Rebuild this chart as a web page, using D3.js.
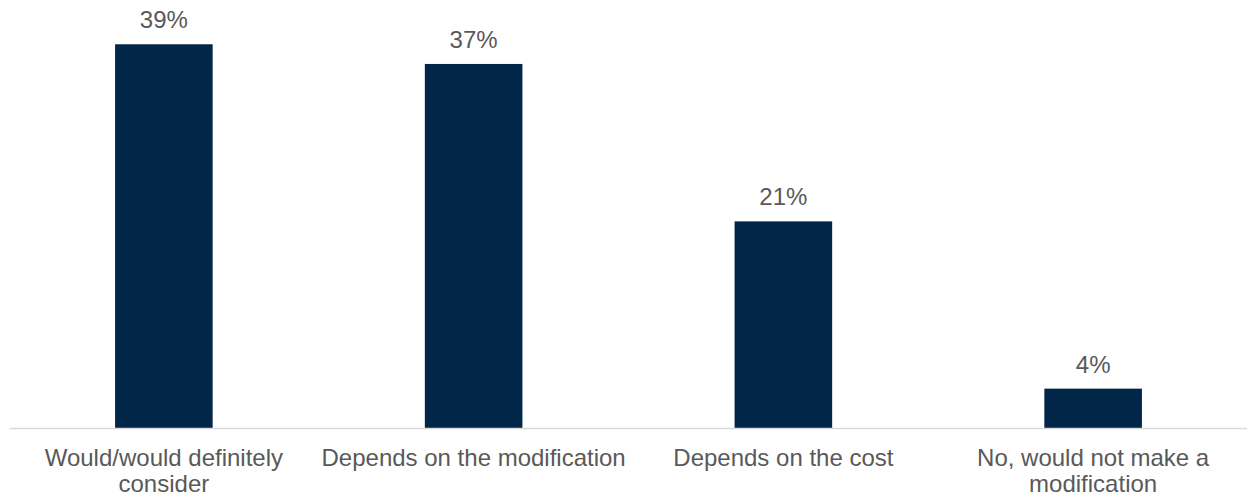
<!DOCTYPE html>
<html>
<head>
<meta charset="utf-8">
<script src="https://cdn.jsdelivr.net/npm/d3@7"></script>
<style>
  html, body { margin: 0; padding: 0; background: #ffffff; }
  svg { display: block; }
</style>
</head>
<body>
<svg id="chart" width="1247" height="495"></svg>
<script>
// Survey responses: share of respondents (%)
const categories = [
  ["Would/would definitely", "consider"],
  ["Depends on the modification"],
  ["Depends on the cost"],
  ["No, would not make a", "modification"]
];
const values = [39, 37, 21, 4];
const valueLabels = ["39%", "37%", "21%", "4%"];

const W = 1247, H = 495;
const baseline = 428;
const left = 9, right = 1248;
const fontFamily = "'Liberation Sans', Arial, sans-serif";
const fontSize = 24;

const svg = d3.select("#chart");

const x = d3.scaleBand()
  .domain(d3.range(values.length))
  .range([left, right])
  .paddingInner(0.685)
  .paddingOuter(0.3425);

const y = d3.scaleLinear()
  .domain([0, 43.5])
  .range([baseline, 0]);

// Bars
svg.append("g")
  .selectAll("rect")
  .data(values)
  .join("rect")
  .attr("x", (d, i) => x(i))
  .attr("width", x.bandwidth())
  .attr("y", d => y(d))
  .attr("height", d => baseline - y(d))
  .attr("fill", "#012647");

// Value labels above bars
svg.append("g")
  .selectAll("text")
  .data(values)
  .join("text")
  .attr("x", (d, i) => x(i) + x.bandwidth() / 2)
  .attr("y", d => y(d) - 16)
  .attr("text-anchor", "middle")
  .attr("font-family", fontFamily)
  .attr("font-size", fontSize)
  .attr("fill", "#595959")
  .text((d, i) => valueLabels[i]);

// Category axis
const axis = svg.append("g")
  .attr("transform", `translate(0,${baseline})`)
  .call(d3.axisBottom(x).tickSize(0).tickFormat(""));
axis.select(".domain")
  .attr("stroke", "#d9d9d9")
  .attr("stroke-width", 1.5);

const labels = svg.append("g")
  .selectAll("text")
  .data(categories)
  .join("text")
  .attr("text-anchor", "middle")
  .attr("font-family", fontFamily)
  .attr("font-size", fontSize)
  .attr("fill", "#595959");

labels.selectAll("tspan")
  .data((lines, i) => lines.map(t => ({ t, i })))
  .join("tspan")
  .attr("x", d => x(d.i) + x.bandwidth() / 2)
  .attr("y", (d, j) => 466 + j * 25.5)
  .text(d => d.t);
</script>
</body>
</html>
